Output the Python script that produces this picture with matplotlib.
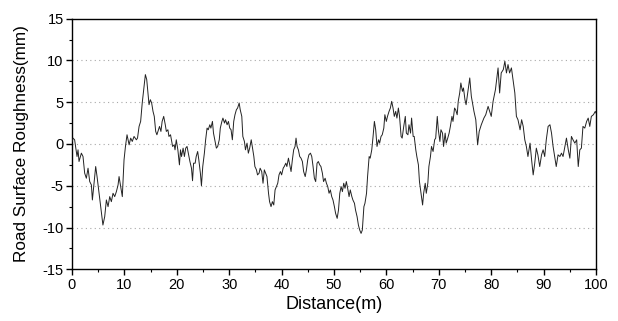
import matplotlib
matplotlib.use("Agg")
import matplotlib.pyplot as plt
from matplotlib.ticker import MultipleLocator

plt.rcParams['font.family'] = ['Liberation Sans', 'DejaVu Sans']
plt.rcParams['axes.unicode_minus'] = False

distance = [
    0.0, 0.2, 0.5, 0.96, 1.15, 1.34, 1.79, 2.1, 2.42, 2.74, 3.06, 3.38, 3.7, 3.89, 4.14, 4.52, 4.78,
    5.16, 5.6, 5.9, 6.24, 6.56, 6.88, 7.2, 7.51, 7.83, 8.15, 8.47, 8.79, 8.98, 9.23, 9.6, 9.93,
    10.2, 10.5, 10.9, 11.2, 11.5, 11.84, 12.28,
    12.5, 12.8, 13.1, 13.4, 13.75, 14.0, 14.26, 14.5, 14.7, 14.95, 15.2, 15.46, 15.7, 15.97, 16.2,
    16.5, 16.7, 16.97, 17.2, 17.5, 17.8, 18.0, 18.3, 18.5, 18.8, 19.2, 19.5, 19.66, 19.9, 20.2,
    20.5, 20.7, 20.9, 21.2, 21.45, 21.7, 21.95, 22.2, 22.5, 22.8, 23.0, 23.2, 23.5, 23.7, 23.98,
    24.2, 24.5, 24.7,
    24.95, 25.26, 25.5, 25.77, 26.0, 26.3, 26.5, 26.8, 27.0, 27.3, 27.55, 27.8, 28.1, 28.3, 28.6,
    28.8, 29.1, 29.3, 29.6, 29.85, 30.1, 30.35, 30.6, 30.86, 31.1, 31.37, 31.6, 31.9, 32.1, 32.4,
    32.6, 32.9, 33.1, 33.4, 33.65, 33.9, 34.2, 34.4, 34.7, 34.9, 35.2, 35.4, 35.7, 35.9, 36.2,
    36.45, 36.7, 36.96, 37.2,
    37.5, 37.7, 37.98, 38.24, 38.5, 38.75, 39.0, 39.26, 39.5, 39.77, 40.0, 40.3, 40.5, 40.8, 41.0,
    41.3, 41.55, 41.8, 42.05, 42.3, 42.56, 42.75, 42.95, 43.2, 43.45, 43.7, 43.96, 44.2, 44.5,
    44.73, 44.98, 45.2, 45.5, 45.75, 46.0, 46.25, 46.5, 46.76, 47.0, 47.27, 47.5, 47.78, 48.0,
    48.3, 48.55, 48.8, 49.05, 49.3, 49.56, 49.8, 50.07,
    50.3, 50.6, 50.85, 51.1, 51.35, 51.6, 51.85, 52.1, 52.35, 52.6, 52.87, 53.1, 53.4, 53.6, 53.9,
    54.1, 54.4, 54.65, 54.9, 55.16, 55.4, 55.7, 55.9, 56.2, 56.4, 56.7, 56.9, 57.2, 57.45, 57.7,
    57.95, 58.2, 58.5, 58.7, 58.97, 59.2, 59.5, 59.7, 59.98, 60.2, 60.5, 60.75, 61.0, 61.26, 61.5,
    61.77, 62.0, 62.28, 62.5,
    62.8, 63.0, 63.3, 63.6, 63.8, 64.1, 64.3, 64.6, 64.8, 65.1, 65.3, 65.6, 65.8, 66.1, 66.3,
    66.6, 66.9, 67.1, 67.4, 67.6, 67.9, 68.1, 68.4, 68.6, 68.9, 69.2, 69.4, 69.7, 69.9, 70.2,
    70.4, 70.7, 70.9, 71.2, 71.4, 71.7, 71.96, 72.2, 72.5, 72.7, 73.0, 73.2, 73.5, 73.7, 73.98,
    74.2, 74.5, 74.7, 74.98, 75.2,
    75.6, 75.9, 76.2, 76.7, 77.05, 77.4, 77.7, 78.1, 78.6, 78.95, 79.4, 79.7, 80.0, 80.35, 80.8,
    81.3, 81.6, 81.9, 82.3, 82.6, 82.9, 83.2, 83.5, 83.85, 84.2, 84.5, 84.8, 85.1, 85.5, 85.8,
    86.1, 86.4, 86.7, 87.0, 87.4, 87.7, 88.0, 88.3, 88.6, 88.9, 89.25, 89.6, 89.9, 90.2, 90.5,
    90.85, 91.2, 91.5, 91.8, 92.1, 92.4, 92.75, 93.1, 93.4, 93.7, 94.0, 94.35, 94.7, 95.0, 95.3,
    95.6, 95.95, 96.3, 96.6, 96.9, 97.2, 97.5, 97.85, 98.2, 98.5, 98.8, 99.1, 99.5, 99.85, 100.0,
]

roughness = [
    0.3, 0.7, 0.5, -1.5, -0.7, -2.1, -1.1, -1.5, -3.5, -4.1, -2.9, -4.5, -4.9, -6.7, -5.1, -2.7, -3.9,
    -5.9, -8.3, -9.7, -8.7, -6.7, -7.5, -6.3, -6.9, -5.9, -6.3, -5.7, -4.9, -3.9, -4.9, -6.3, -1.9,
    -0.3, 1.1, -0.1, 0.7, 0.3, 0.9, 0.5,
    0.7, 2.1, 2.7, 4.9, 6.9, 8.3, 7.7, 6.1, 4.7, 5.3, 4.9, 3.9, 3.3, 1.5, 1.1,
    1.7, 2.1, 1.5, 2.7, 3.3, 2.3, 1.5, 1.7, 0.9, 1.1, -0.3, -0.1, -0.7, 0.5, -0.7,
    -2.5, -0.7, -1.5, -0.5, -1.5, -0.5, -0.3, -1.1, -2.1, -2.9, -4.4, -2.3, -2.3, -1.5, -0.9,
    -1.9, -3.5, -5.0,
    -2.7, -1.1, 0.5, 1.9, 1.7, 2.3, 1.9, 2.7, 1.3, 0.3, -0.5, -0.3, 0.5, 1.9, 2.7,
    3.1, 2.5, 2.9, 2.3, 2.7, 1.9, 1.7, 0.5, 2.7, 3.5, 4.1, 4.3, 4.9, 4.1, 3.3,
    0.9, 0.3, -0.7, 0.1, -1.1, -0.5, 0.5, -0.3, -1.5, -2.7, -3.1, -3.7, -3.5, -2.9, -3.3,
    -4.7, -3.1, -3.5, -3.9,
    -5.9, -6.9, -7.5, -6.9, -7.3, -5.5, -5.1, -4.7, -3.7, -3.3, -3.7, -2.9, -2.7, -2.3, -2.7,
    -1.7, -2.5, -3.3, -1.9, -0.7, -0.3, 0.7, -0.3, -0.7, -1.5, -1.7, -2.1, -3.3, -3.9,
    -3.1, -1.9, -1.3, -1.1, -1.5, -2.7, -4.1, -4.5, -2.3, -2.1, -2.5, -2.7, -3.5, -4.5,
    -4.1, -4.7, -5.1, -5.9, -5.5, -6.3, -6.7, -7.5,
    -8.3, -8.9, -7.9, -5.9, -5.1, -5.7, -4.7, -5.3, -4.5, -5.3, -6.3, -5.5, -6.3, -6.7, -7.1,
    -7.9, -8.7, -9.7, -10.3, -10.7, -10.3, -7.5, -7.1, -5.9, -3.9, -1.5, -1.7, -0.7, 0.9, 2.7,
    1.7, -0.3, 0.5, 0.1, 0.9, 1.1, 1.9, 3.5, 2.7, 3.3, 3.9, 4.3, 5.1, 4.3, 3.3,
    3.9, 3.1, 4.3, 3.3,
    0.9, 0.7, 2.1, 3.3, 1.3, 1.1, 2.3, 1.3, 3.1, 0.9, 0.9, -0.7, -1.5, -2.5, -4.5,
    -5.9, -7.3, -5.9, -4.7, -5.9, -4.7, -2.7, -1.5, -0.3, -0.9, 0.5, 0.7, 3.3, 1.7, 0.3,
    1.7, 1.3, -0.3, 1.3, 0.1, 0.7, 1.3, 2.1, 3.3, 2.7, 4.3, 4.1, 3.5, 5.1, 6.1,
    7.3, 6.3, 6.7, 5.3, 4.7,
    6.5, 7.9, 5.7, 3.9, 2.9, -0.1, 1.5, 2.3, 3.1, 3.5, 4.5, 3.9, 3.3, 5.1, 6.5,
    9.1, 6.1, 8.5, 8.9, 9.9, 8.5, 9.5, 8.5, 9.1, 7.5, 6.1, 3.3, 2.9, 1.7, 2.9,
    2.1, 0.5, -0.3, -1.5, 0.1, -1.9, -3.7, -2.3, -0.5, -1.3, -2.7, -1.3, -0.7, -1.5, 0.5,
    2.1, 2.3, 1.3, -0.3, -1.5, -2.7, -1.3, -1.5, -1.1, -1.5, -0.5, 0.7, -0.7, -1.7, 0.9,
    0.5, 0.1, 0.5, -2.7, -0.7, -0.5, 2.1, 1.9, 2.7, 3.1, 2.1, 3.3, 3.5, 3.9, 3.7,
]

x_ticks = [0, 10, 20, 30, 40, 50, 60, 70, 80, 90, 100]
y_ticks = [-15, -10, -5, 0, 5, 10, 15]
grid_levels = [-10, -5, 0, 5, 10]

fig = plt.figure(figsize=(6.18, 3.21), dpi=100)
ax = fig.add_axes([0.1165, 0.161, 0.848, 0.781])

for g in grid_levels:
    ax.axhline(g, color='#a8a8a8', lw=0.8, ls=(0, (1, 3)), zorder=1)

ax.plot(distance, roughness, color='#222222', lw=0.7, zorder=3)

ax.set_xlim(0, 100)
ax.set_ylim(-15, 15)
ax.set_xticks(x_ticks)
ax.set_yticks(y_ticks)
ax.xaxis.set_minor_locator(MultipleLocator(5))
ax.yaxis.set_minor_locator(MultipleLocator(2.5))
ax.tick_params(which='major', direction='out', length=4, width=1, labelsize=10.5,
               top=False, right=False, pad=2)
ax.tick_params(which='minor', direction='out', length=2.5, width=0.8, top=False, right=False)
for s in ax.spines.values():
    s.set_linewidth(1.0)
    s.set_color('black')

ax.set_xlabel('Distance(m)', fontsize=13, labelpad=3)
ax.set_ylabel('Road Surface Roughness(mm)', fontsize=12.3, labelpad=10)

fig.savefig('out.png', dpi=100)
